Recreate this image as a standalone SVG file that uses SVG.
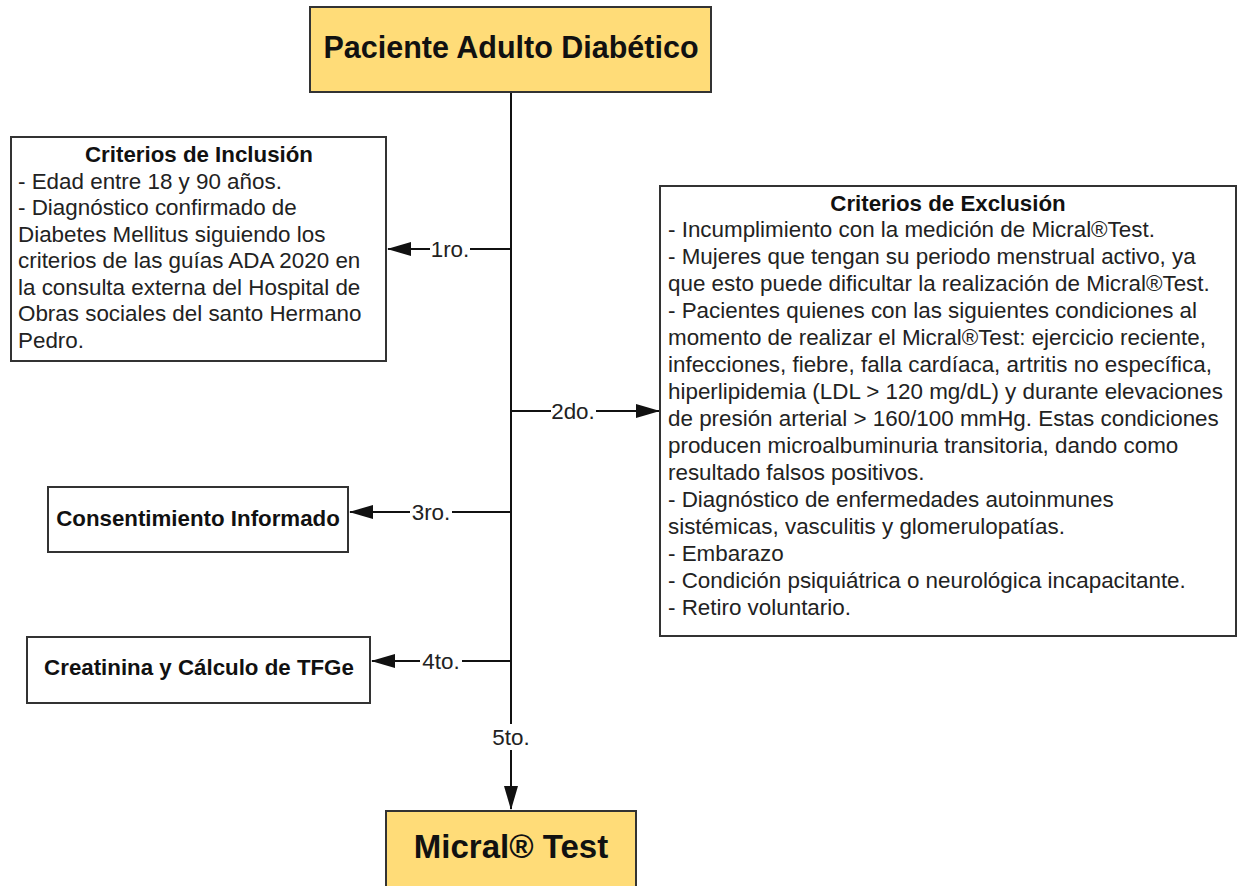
<svg xmlns="http://www.w3.org/2000/svg" width="1238" height="886" viewBox="0 0 1238 886">
<style>
.box{fill:#ffffff;stroke:#333333;stroke-width:2}
.ybox{fill:#ffdc78;stroke:#333333;stroke-width:2}
.t{font-family:"Liberation Sans",Arial,sans-serif;font-size:22.4px;fill:#222222}
.b{font-family:"Liberation Sans",Arial,sans-serif;font-weight:bold;fill:#111111}
.ln{stroke:#111111;stroke-width:2;fill:none}
.lbl{font-family:"Liberation Sans",Arial,sans-serif;font-size:22.4px;fill:#222222;text-anchor:middle}
.bg{fill:#ffffff}
</style>
<defs>
<marker id="arr" viewBox="0 0 24 14" markerWidth="24" markerHeight="14" refX="23" refY="7" orient="auto" markerUnits="userSpaceOnUse">
<path d="M0,0 L24,7 L0,14 Z" fill="#111111"/>
</marker>
</defs>
<g id="connectors">
<line class="ln" x1="511" y1="92" x2="511" y2="785"/>
<line class="ln" x1="511" y1="785" x2="511" y2="809" marker-end="url(#arr)"/>
<line class="ln" x1="511" y1="249" x2="388" y2="249" marker-end="url(#arr)"/>
<line class="ln" x1="511" y1="411" x2="659" y2="411" marker-end="url(#arr)"/>
<line class="ln" x1="511" y1="512" x2="350" y2="512" marker-end="url(#arr)"/>
<line class="ln" x1="511" y1="661" x2="372" y2="661" marker-end="url(#arr)"/>
<rect class="bg" x="430" y="237" width="40" height="24"/>
<text class="lbl" x="450" y="257">1ro.</text>
<rect class="bg" x="551" y="399" width="45" height="24"/>
<text class="lbl" x="573" y="419">2do.</text>
<rect class="bg" x="410" y="500" width="42" height="24"/>
<text class="lbl" x="431" y="520">3ro.</text>
<rect class="bg" x="420" y="649" width="42" height="24"/>
<text class="lbl" x="441" y="669">4to.</text>
<rect class="bg" x="490" y="724" width="42" height="26"/>
<text class="lbl" x="511" y="745">5to.</text>
</g>
<g id="node-paciente">
<rect class="ybox" x="310" y="7" width="401" height="85"/>
<text class="b" x="511" y="58" font-size="30.5" text-anchor="middle">Paciente Adulto Diabético</text>
</g>
<g id="node-inclusion">
<rect class="box" x="11" y="137" width="375" height="224"/>
<text class="b" x="199" y="162" font-size="22.3" text-anchor="middle">Criterios de Inclusión</text>
<text class="t" x="18" y="189">- Edad entre 18 y 90 años.</text>
<text class="t" x="18" y="215">- Diagnóstico confirmado de</text>
<text class="t" x="18" y="242">Diabetes Mellitus siguiendo los</text>
<text class="t" x="18" y="268">criterios de las guías ADA 2020 en</text>
<text class="t" x="18" y="295">la consulta externa del Hospital de</text>
<text class="t" x="18" y="321">Obras sociales del santo Hermano</text>
<text class="t" x="18" y="348">Pedro.</text>
</g>
<g id="node-exclusion">
<rect class="box" x="660" y="186" width="576" height="450"/>
<text class="b" x="948" y="211" font-size="22.3" text-anchor="middle">Criterios de Exclusión</text>
<text class="t" x="668" y="237">- Incumplimiento con la medición de Micral®Test.</text>
<text class="t" x="668" y="264">- Mujeres que tengan su periodo menstrual activo, ya</text>
<text class="t" x="668" y="291">que esto puede dificultar la realización de Micral®Test.</text>
<text class="t" x="668" y="318">- Pacientes quienes con las siguientes condiciones al</text>
<text class="t" x="668" y="345">momento de realizar el Micral®Test: ejercicio reciente,</text>
<text class="t" x="668" y="372">infecciones, fiebre, falla cardíaca, artritis no específica,</text>
<text class="t" x="668" y="399">hiperlipidemia (LDL &gt; 120 mg/dL) y durante elevaciones</text>
<text class="t" x="668" y="426">de presión arterial &gt; 160/100 mmHg. Estas condiciones</text>
<text class="t" x="668" y="453">producen microalbuminuria transitoria, dando como</text>
<text class="t" x="668" y="480">resultado falsos positivos.</text>
<text class="t" x="668" y="507">- Diagnóstico de enfermedades autoinmunes</text>
<text class="t" x="668" y="534">sistémicas, vasculitis y glomerulopatías.</text>
<text class="t" x="668" y="561">- Embarazo</text>
<text class="t" x="668" y="588">- Condición psiquiátrica o neurológica incapacitante.</text>
<text class="t" x="668" y="615">- Retiro voluntario.</text>
</g>
<g id="node-consentimiento">
<rect class="box" x="48" y="487" width="300" height="65"/>
<text class="b" x="198" y="526" font-size="22.3" text-anchor="middle">Consentimiento Informado</text>
</g>
<g id="node-creatinina">
<rect class="box" x="27" y="637" width="343" height="66"/>
<text class="b" x="199" y="675" font-size="22.3" text-anchor="middle">Creatinina y Cálculo de TFGe</text>
</g>
<g id="node-micral">
<rect class="ybox" x="386" y="811" width="250" height="85"/>
<text class="b" x="511" y="858" font-size="33" text-anchor="middle">Micral® Test</text>
</g>
</svg>
